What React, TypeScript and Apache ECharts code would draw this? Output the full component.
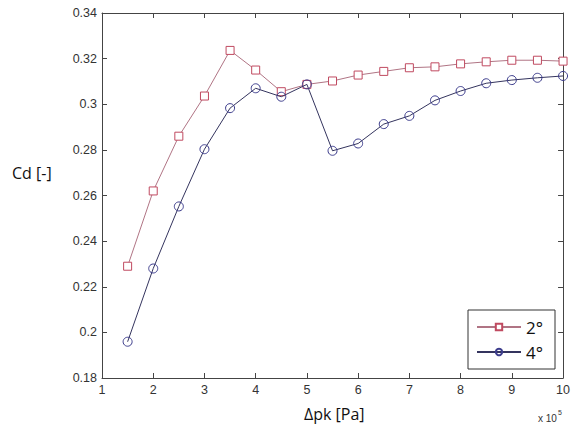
import React, { useEffect, useRef } from "react";
import * as echarts from "echarts";

const xValues = [1.5, 2, 2.5, 3, 3.5, 4, 4.5, 5, 5.5, 6, 6.5, 7, 7.5, 8, 8.5, 9, 9.5, 10];
const series2deg = [0.229, 0.262, 0.286, 0.3036, 0.3236, 0.315, 0.3055, 0.3087, 0.3102, 0.3128, 0.3144, 0.316, 0.3164, 0.3177, 0.3186, 0.3193, 0.3193, 0.3189];
const series4deg = [0.1959, 0.228, 0.2552, 0.2803, 0.2983, 0.307, 0.3033, 0.3087, 0.2796, 0.2828, 0.2913, 0.2949, 0.3017, 0.3058, 0.3092, 0.3106, 0.3116, 0.3124];
const seriesNames = ["2°", "4°"];

export default function App() {
  const ref = useRef<HTMLDivElement>(null);
  useEffect(() => {
    if (!ref.current) return;
    const chart = echarts.init(ref.current, null, { renderer: "svg" });
    const axisCommon = {
      type: "value" as const,
      axisLine: { show: true, lineStyle: { color: "#444", width: 1 } },
      axisTick: { show: true, inside: true, length: 5, lineStyle: { color: "#444" } },
      splitLine: { show: false },
    };
    chart.setOption({
      animation: false,
      backgroundColor: "#fff",
      grid: { left: 102, right: 5, top: 13, bottom: 47 },
      xAxis: [
        {
          ...axisCommon,
          min: 1,
          max: 10,
          interval: 1,
          position: "bottom",
          axisLabel: { color: "#333", fontSize: 12.5, fontFamily: "Liberation Sans, Arial", margin: 5 },
        },
        {
          ...axisCommon,
          min: 1,
          max: 10,
          interval: 1,
          position: "top",
          axisLabel: { show: false },
        },
      ],
      yAxis: [
        {
          ...axisCommon,
          min: 0.18,
          max: 0.34,
          interval: 0.02,
          position: "left",
          axisLabel: { color: "#333", fontSize: 12.5, fontFamily: "Liberation Sans, Arial", margin: 5 },
        },
        {
          ...axisCommon,
          min: 0.18,
          max: 0.34,
          interval: 0.02,
          position: "right",
          axisLabel: { show: false },
        },
      ],
      legend: {
        left: 468,
        top: 310,
        orient: "vertical",
        backgroundColor: "#fff",
        borderColor: "#333",
        borderWidth: 1,
        padding: [8, 12, 8, 8],
        itemWidth: 44,
        itemHeight: 8,
        itemGap: 7,
        textStyle: { fontSize: 17, color: "#111", fontFamily: "Open Sans, Noto Sans, sans-serif", lineHeight: 18 },
        data: seriesNames,
      },
      series: [
        {
          name: seriesNames[0],
          type: "line",
          data: xValues.map((x, i) => [x, series2deg[i]]),
          symbol: "rect",
          symbolSize: 8,
          lineStyle: { color: "#b07484", width: 1 },
          itemStyle: { color: "#fff", borderColor: "#c04a60", borderWidth: 1 },
          z: 2,
        },
        {
          name: seriesNames[1],
          type: "line",
          data: xValues.map((x, i) => [x, series4deg[i]]),
          symbol: "circle",
          symbolSize: 9,
          lineStyle: { color: "#34345e", width: 1 },
          itemStyle: { color: "transparent", borderColor: "#3c3c8c", borderWidth: 1 },
          z: 3,
        },
      ],
      graphic: [
        {
          type: "text",
          left: 12,
          top: 165,
          style: { text: "Cd [-]", fontSize: 16, fill: "#111", fontFamily: "Open Sans, Noto Sans, sans-serif" },
        },
        {
          type: "text",
          left: 304,
          top: 406,
          style: { text: "Δpk [Pa]", fontSize: 16, fill: "#111", fontFamily: "Open Sans, Noto Sans, sans-serif" },
        },
        {
          type: "text",
          left: 538,
          top: 413,
          style: { text: "x 10", fontSize: 10, fill: "#333", fontFamily: "Liberation Sans, Arial" },
        },
        {
          type: "text",
          left: 558,
          top: 409,
          style: { text: "5", fontSize: 7, fill: "#333", fontFamily: "Liberation Sans, Arial" },
        },
      ],
    });
    return () => chart.dispose();
  }, []);
  return <div ref={ref} style={{ width: 573, height: 425, position: "absolute", left: 0, top: 0 }} />;
}
